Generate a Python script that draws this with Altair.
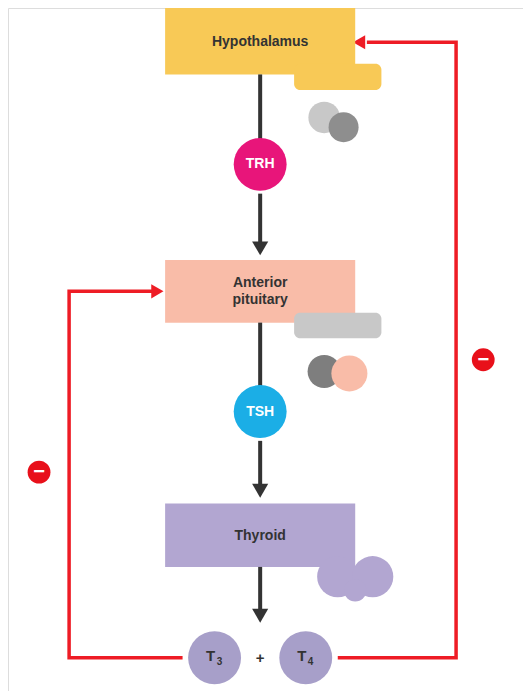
import altair as alt
import pandas as pd

# boxes
box_x1 = [162, 162, 162]; box_x2 = [358, 358, 358]
box_y1 = [0, 258, 507]; box_y2 = [68, 322, 572]
box_col = ["#F8C956", "#F9BCA8", "#B2A6D1"]
box_lines = [["Hypothalamus"], ["Anterior", "pituitary"], ["Thyroid"]]
box_ty = [35, 290, 540]

# hormone circles
circ_lab = ["TRH", "TSH", "T3", "T4"]
circ_x = [260, 260, 213, 307]
circ_y = [160, 413, 665, 665]
circ_col = ["#E8157A", "#1BAEE6", "#A79FC9", "#A79FC9"]

# black arrows
arr_y1 = [68, 190, 322, 443, 572]
arr_y2 = [146, 246, 398, 494, 622]

# red feedback paths
red_x = [[340, 462, 462, 370], [180, 63, 63, 150]]
red_y = [[665, 665, 35, 35], [665, 665, 290, 290]]
minus_x = [490, 32]; minus_y = [360, 475]

# gland icon plates
plate_x1 = [295, 295]; plate_x2 = [385, 385]
plate_y1 = [57, 312]; plate_y2 = [84, 338]
plate_c = ["#F8C956", "#C8C8C8"]
# gland icon blobs
blob_x = [326, 346, 326, 352, 340, 376, 358]
blob_y = [112, 122, 372, 374, 582, 582, 596]
blob_s = [1000, 900, 1100, 1300, 1700, 1700, 500]
blob_c = ["#C8C8C8", "#8E8E8E", "#7E7E7E", "#F9BCA8", "#B2A6D1", "#B2A6D1", "#B2A6D1"]

W, H = 515, 683
xs = alt.Scale(domain=[0, 531], range=[0, W])
ys = alt.Scale(domain=[0, 699], range=[0, H])
X = lambda f: alt.X(f, scale=xs, axis=None)
Y = lambda f: alt.Y(f, scale=ys, axis=None)

boxes = pd.DataFrame(dict(x1=box_x1, x2=box_x2, y1=box_y1, y2=box_y2, c=box_col))
rects = alt.Chart(boxes).mark_rect().encode(X("x1:Q"), x2="x2", y=Y("y1:Q"), y2="y2", color=alt.Color("c:N", scale=None))
pl = pd.DataFrame(dict(x1=plate_x1, x2=plate_x2, y1=plate_y1, y2=plate_y2, c=plate_c))
plates = alt.Chart(pl).mark_rect(cornerRadius=6).encode(X("x1:Q"), x2="x2", y=Y("y1:Q"), y2="y2", color=alt.Color("c:N", scale=None))

trows = []
for lines, ty in zip(box_lines, box_ty):
    n = len(lines)
    for i, l in enumerate(lines):
        trows.append(dict(t=l, x=260, y=ty + (i - (n - 1) / 2) * 17))
btext = alt.Chart(pd.DataFrame(trows)).mark_text(font="Arial", fontSize=14, fontWeight="bold", color="#333333").encode(X("x:Q"), Y("y:Q"), text="t")

ar = pd.DataFrame(dict(x=260, y1=arr_y1, y2=arr_y2))
shafts = alt.Chart(ar).mark_rule(color="#333333", strokeWidth=4).encode(X("x:Q"), y=Y("y1:Q"), y2="y2")
heads = alt.Chart(ar).mark_point(shape="triangle-down", filled=True, color="#333333", size=260, opacity=1).encode(X("x:Q"), Y("y2:Q"))

rrows = []
for k, (px, py) in enumerate(zip(red_x, red_y)):
    for i, (a, b) in enumerate(zip(px, py)):
        rrows.append(dict(g=k, o=i, x=a, y=b))
red = alt.Chart(pd.DataFrame(rrows)).mark_line(color="#EE1C25", strokeWidth=3.5, interpolate="linear").encode(X("x:Q"), Y("y:Q"), detail="g:N", order="o:Q")
redheads1 = alt.Chart(pd.DataFrame(dict(x=[362], y=[35]))).mark_point(shape="triangle-left", filled=True, color="#EE1C25", size=200, opacity=1).encode(X("x:Q"), Y("y:Q"))
redheads2 = alt.Chart(pd.DataFrame(dict(x=[154], y=[290]))).mark_point(shape="triangle-right", filled=True, color="#EE1C25", size=200, opacity=1).encode(X("x:Q"), Y("y:Q"))

mn = pd.DataFrame(dict(x=minus_x, y=minus_y))
mcirc = alt.Chart(mn).mark_circle(color="#E8101A", size=520, opacity=1).encode(X("x:Q"), Y("y:Q"))
mbar = alt.Chart(mn).mark_text(text="−", color="white", fontSize=20, fontWeight="bold", baseline="middle").encode(X("x:Q"), Y("y:Q"))

bl = pd.DataFrame(dict(x=blob_x, y=blob_y, s=blob_s, c=blob_c))
blobs = alt.Chart(bl).mark_circle(opacity=1).encode(X("x:Q"), Y("y:Q"), size=alt.Size("s:Q", scale=None),
                                                     color=alt.Color("c:N", scale=None))

cd = pd.DataFrame(dict(t=circ_lab, x=circ_x, y=circ_y, c=circ_col))
circles = alt.Chart(cd).mark_circle(size=2800, opacity=1).encode(X("x:Q"), Y("y:Q"), color=alt.Color("c:N", scale=None))
ctext = alt.Chart(cd.iloc[:2]).mark_text(font="Arial", fontSize=14, fontWeight="bold", color="white").encode(X("x:Q"), Y("y:Q"), text="t")
ctext2 = alt.Chart(pd.DataFrame(dict(t=["T", "T", "+"], x=[209, 303, 260], y=[663, 663, 665]))).mark_text(font="Arial", fontSize=15, fontWeight="bold", color="#333333").encode(X("x:Q"), Y("y:Q"), text="t")
subs = alt.Chart(pd.DataFrame(dict(t=["3", "4"], x=[218, 312], y=[669, 669]))).mark_text(font="Arial", fontSize=10, fontWeight="bold", color="#333333").encode(X("x:Q"), Y("y:Q"), text="t")

chart = alt.layer(red, redheads1, redheads2, rects, blobs, plates, btext, shafts, heads, circles, ctext, ctext2, subs, mcirc, mbar).properties(
    width=W, height=H, autosize=alt.AutoSizeParams(type="none"), padding=0
).configure_view(stroke=None).configure(background="white")

chart.save("out.html", embed_options={"renderer": "svg", "actions": False})
